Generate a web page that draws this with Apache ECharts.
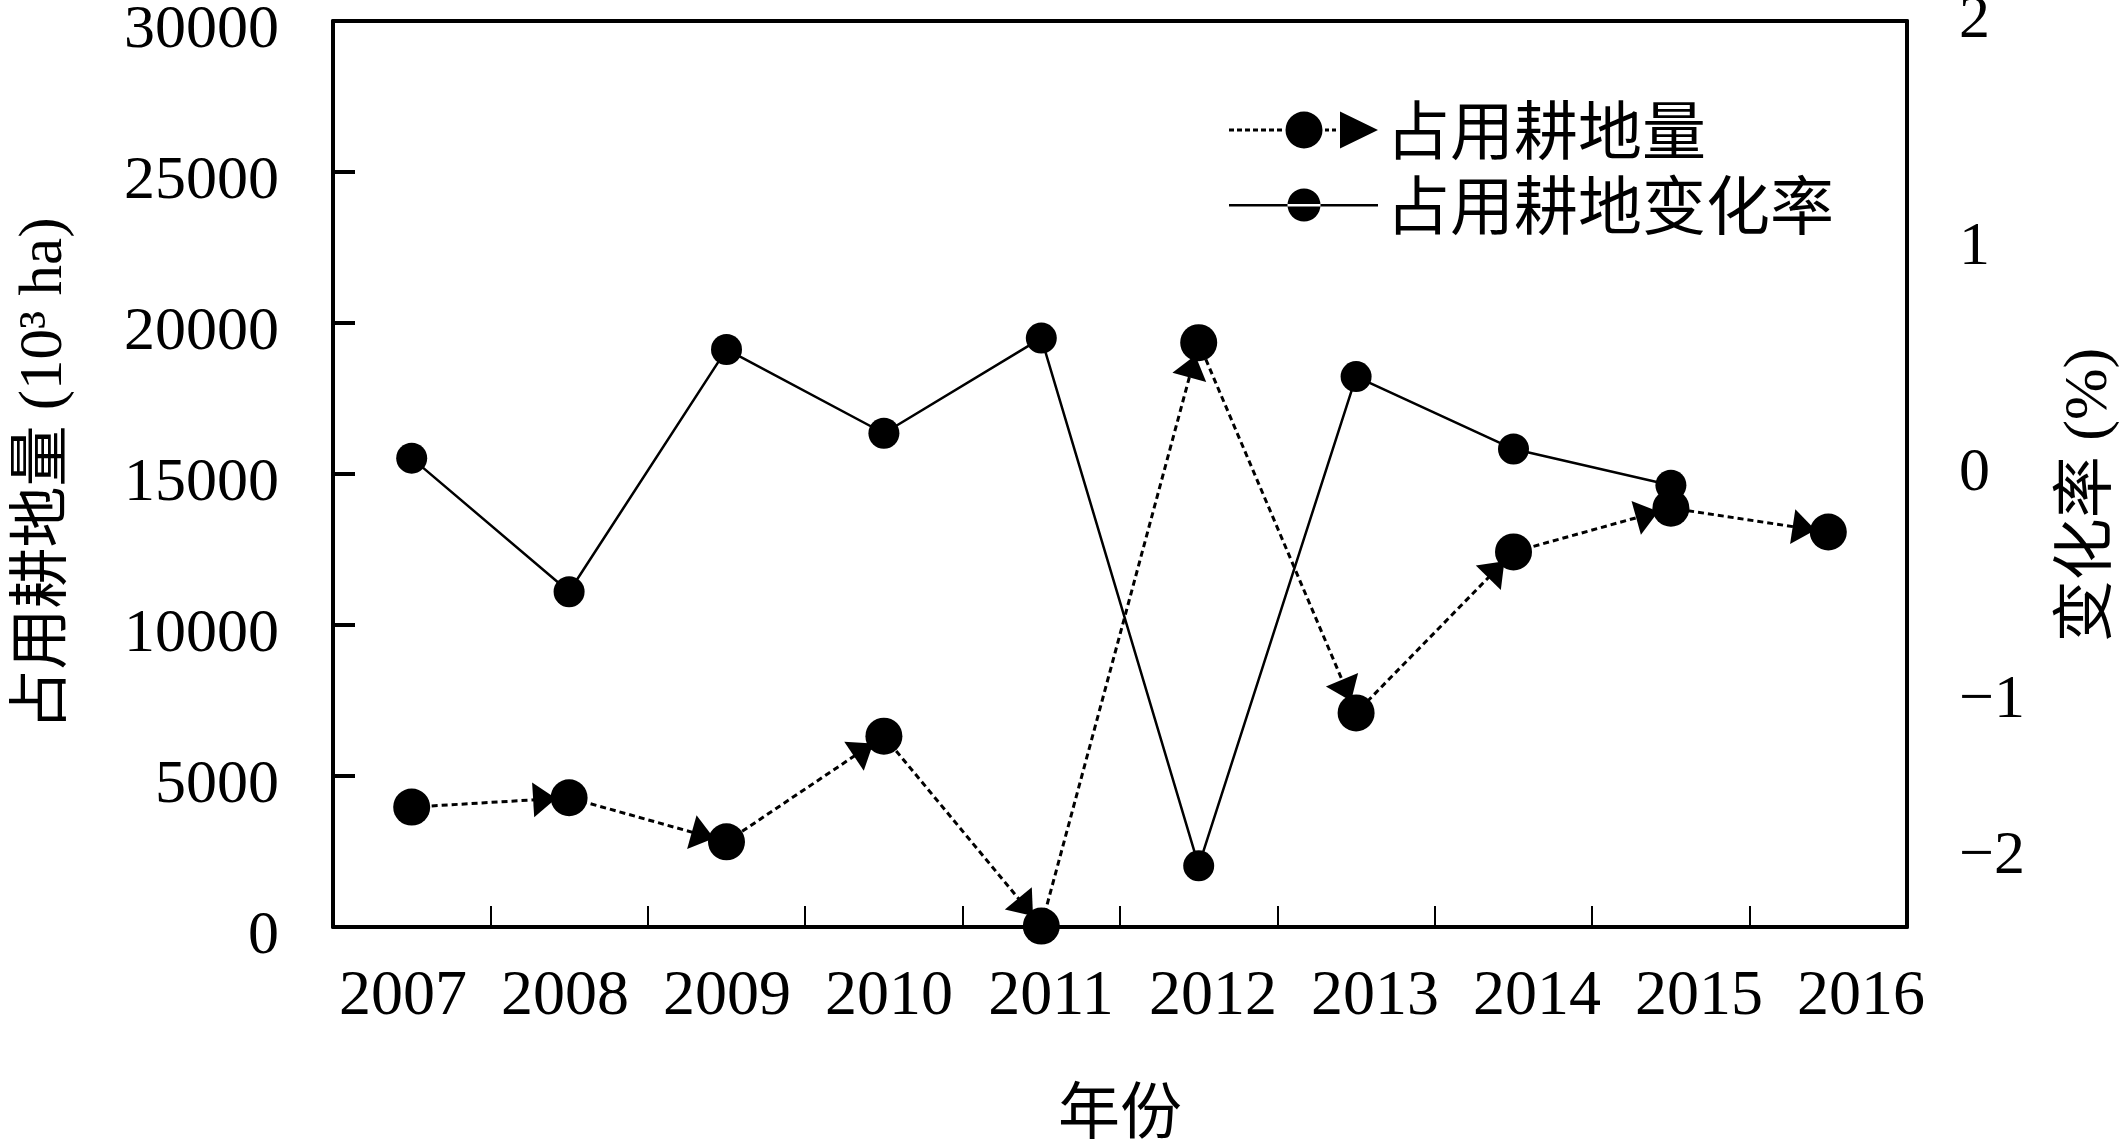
<!DOCTYPE html>
<html><head><meta charset="utf-8">
<script src="https://cdn.jsdelivr.net/npm/echarts@6/dist/echarts.min.js"></script>
<style>html,body{margin:0;padding:0;background:#fff}#c{width:2122px;height:1139px}</style>
</head><body><div id="c"></div>
<script>
// ---- data ----
const years = ['2007','2008','2009','2010','2011','2012','2013','2014','2015','2016'];
const occupied = [3970, 4280, 2820, 6320, 30, 19350, 7090, 12420, 13870, 13080];
const rate = [0.07, -0.52, 0.55, 0.18, 0.60, -1.73, 0.43, 0.11, -0.05, null];
const seriesNames = ['占用耕地量', '占用耕地变化率'];
const leftMin = 0, leftMax = 30000, leftStep = 5000;
const rightMin = -2, rightMax = 2, rightStep = 1;
const xName = '年份';
const leftName = '占用耕地量 (10³ ha)';
const rightName = '变化率 (%)';

const SERIF = '"Liberation Serif","Times New Roman",serif';
const MIXED = '"Liberation Serif","Noto Sans CJK SC",serif';
const CJK = '"Noto Sans CJK SC",sans-serif';

function dashes(x0, x1, y, dash, gap, th) {
  let s = '';
  for (let x = x0; x < x1; x += dash + gap) {
    const w = Math.min(dash, x1 - x);
    s += 'M' + x + ' ' + y + 'h' + w + 'v' + th + 'h' + (-w) + 'z';
  }
  return s;
}
function circ(cx, cy, r) {
  return 'M' + (cx - r) + ' ' + cy + 'a' + r + ' ' + r + ' 0 1 0 ' + (2 * r) + ' 0a' + r + ' ' + r + ' 0 1 0 ' + (-2 * r) + ' 0z';
}
const icon1 = 'path://' + dashes(0, 56, 17, 5, 3, 3) + circ(75, 18.5, 18.5) + dashes(96, 110, 17, 4, 3, 3) + 'M111 0L149 18.5L111 37z';
const icon2 = 'path://' + 'M0 17.5h149v2.5h-149z' + circ(75, 18.5, 16.5) + 'M75 0h0.01v0.01h-0.01z' + 'M75 36.99h0.01v0.01h-0.01z';

const chart = echarts.init(document.getElementById('c'), null, {renderer: 'canvas'});
const option = {
  animation: false,
  backgroundColor: '#fff',
  legend: {
    orient: 'vertical', left: 1224, top: 93, itemWidth: 149, itemHeight: 37, itemGap: 11,
    data: [{name: seriesNames[0], icon: icon1}, {name: seriesNames[1], icon: icon2}],
    itemStyle: {color: '#000', borderWidth: 0},
    textStyle: {fontSize: 64, fontFamily: CJK, color: '#000', padding: [0, 0, 0, 3]},
    selectedMode: false
  },
  grid: [
    {left: 333, right: 215, top: 21, bottom: 212, show: false, outerBoundsMode: 'none'},
    {left: 322, right: 180, top: 21, bottom: 212, show: false, outerBoundsMode: 'none'}
  ],
  xAxis: [
    {type: 'category', gridIndex: 0, data: years, boundaryGap: true, position: 'bottom',
     axisLine: {onZero: false, lineStyle: {color: '#000', width: 4}},
     axisTick: {show: true, inside: true, length: 21, lineStyle: {color: '#000', width: 2}},
     axisLabel: {show: false}, splitLine: {show: false},
     name: xName, nameLocation: 'middle', nameGap: 152,
     nameTextStyle: {fontSize: 62, fontFamily: CJK, color: '#000'}},
    {type: 'category', gridIndex: 1, data: years,
     axisLine: {show: false}, axisTick: {show: false}, splitLine: {show: false},
     axisLabel: {fontSize: 64, fontFamily: SERIF, color: '#000', margin: 38, interval: 0}},
    {type: 'category', gridIndex: 0, data: years, position: 'top',
     axisLine: {onZero: false, lineStyle: {color: '#000', width: 4}},
     axisTick: {show: false}, axisLabel: {show: false}, splitLine: {show: false}}
  ],
  yAxis: [
    {type: 'value', gridIndex: 0, min: leftMin, max: leftMax, interval: leftStep, position: 'left',
     axisLine: {show: true, onZero: false, lineStyle: {color: '#000', width: 4}},
     axisTick: {show: true, inside: true, length: 22, lineStyle: {color: '#000', width: 4}},
     splitLine: {show: false},
     axisLabel: {fontSize: 62, fontFamily: SERIF, color: '#000', margin: 54,
       formatter: function (v) { return '{d|' + v + '}'; },
       rich: {d: {fontSize: 62, fontFamily: SERIF, color: '#000', padding: [20, 0, 0, 0]}}},
     name: leftName, nameLocation: 'middle', nameRotate: 90, nameGap: 258,
     nameTextStyle: {fontSize: 61, fontFamily: MIXED, color: '#000'}},
    {type: 'value', gridIndex: 0, min: rightMin, max: rightMax, interval: rightStep, position: 'right',
     axisLine: {show: true, onZero: false, lineStyle: {color: '#000', width: 4}},
     axisTick: {show: false}, splitLine: {show: false},
     axisLabel: {fontSize: 62, fontFamily: SERIF, color: '#000', margin: 52,
       formatter: function (v) {
         const s = v < 0 ? '\u2212' + Math.abs(v) : String(v);
         return v === rightMin ? '{up|' + s + '}' : s;
       },
       rich: {up: {fontSize: 62, fontFamily: SERIF, color: '#000', padding: [0, 0, 140, 0]}}},
     name: rightName, nameLocation: 'middle', nameRotate: 90, nameGap: 152,
     nameTextStyle: {fontSize: 62, fontFamily: MIXED, color: '#000', padding: [0, 42, 0, 0]}},
    {type: 'value', gridIndex: 1, show: false}
  ],
  series: [
    {name: seriesNames[1], type: 'line', xAxisIndex: 0, yAxisIndex: 1, data: rate, z: 2,
     symbol: 'circle', symbolSize: 31, showAllSymbol: true,
     lineStyle: {color: '#000', width: 2.5, type: 'solid'},
     itemStyle: {color: '#000', borderWidth: 0}, connectNulls: false},
    {type: 'custom', xAxisIndex: 0, yAxisIndex: 0, z: 3, silent: true, clip: false,
     data: occupied.slice(1).map(function (v, k) { return [k + 1, v, occupied[k]]; }),
     encode: {x: 0, y: 1},
     renderItem: function (params, api) {
       const i = api.value(0);
       const p1 = api.coord([i, api.value(1)]);
       const p0 = api.coord([i - 1, api.value(2)]);
       let dx = p1[0] - p0[0], dy = p1[1] - p0[1];
       const L = Math.hypot(dx, dy) || 1; dx /= L; dy /= L;
       const tip = [p1[0] - dx * 13, p1[1] - dy * 13];
       const b = [p1[0] - dx * 36, p1[1] - dy * 36];
       const nx = -dy, ny = dx, h = 17.5;
       return {type: 'polygon', shape: {points: [tip, [b[0] + nx * h, b[1] + ny * h], [b[0] - nx * h, b[1] - ny * h]]},
               style: {fill: '#000'}};
     }},
    {name: seriesNames[0], type: 'line', xAxisIndex: 0, yAxisIndex: 0, data: occupied, z: 4,
     symbol: 'circle', symbolSize: 37, showAllSymbol: true,
     lineStyle: {color: '#000', width: 3, type: [6, 4]},
     itemStyle: {color: '#000', borderWidth: 0}}
  ]
};
chart.setOption(option);
</script></body></html>
